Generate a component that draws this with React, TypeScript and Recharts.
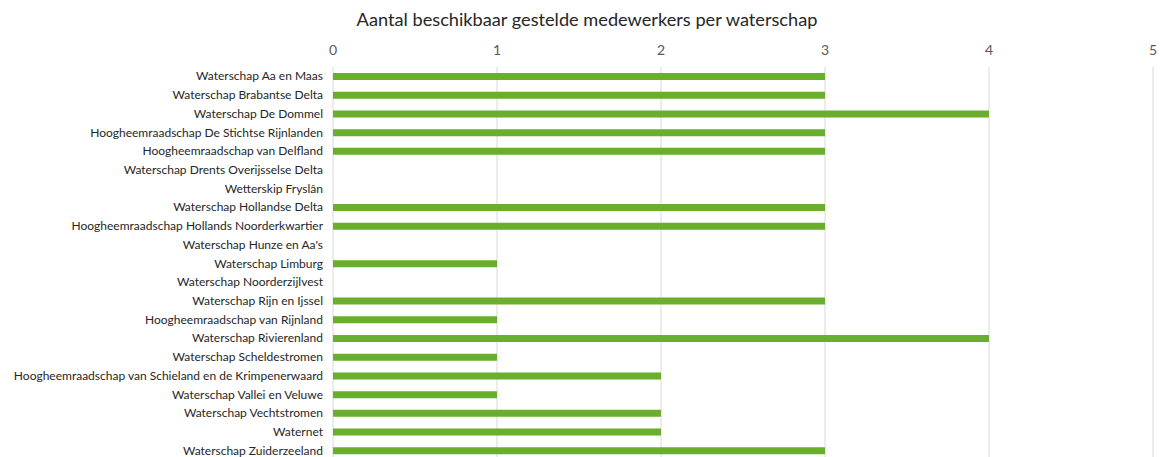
import { Bar, BarChart, CartesianGrid, XAxis, YAxis } from "recharts";

const waterschappen = [
  "Waterschap Aa en Maas",
  "Waterschap Brabantse Delta",
  "Waterschap De Dommel",
  "Hoogheemraadschap De Stichtse Rijnlanden",
  "Hoogheemraadschap van Delfland",
  "Waterschap Drents Overijsselse Delta",
  "Wetterskip Fryslân",
  "Waterschap Hollandse Delta",
  "Hoogheemraadschap Hollands Noorderkwartier",
  "Waterschap Hunze en Aa's",
  "Waterschap Limburg",
  "Waterschap Noorderzijlvest",
  "Waterschap Rijn en Ijssel",
  "Hoogheemraadschap van Rijnland",
  "Waterschap Rivierenland",
  "Waterschap Scheldestromen",
  "Hoogheemraadschap van Schieland en de Krimpenerwaard",
  "Waterschap Vallei en Veluwe",
  "Waterschap Vechtstromen",
  "Waternet",
  "Waterschap Zuiderzeeland",
];

const medewerkers = [3, 3, 4, 3, 3, 0, 0, 3, 3, 0, 1, 0, 3, 1, 4, 1, 2, 1, 2, 2, 3];

const xTicks = [0, 1, 2, 3, 4, 5];

const data = waterschappen.map((name, i) => ({ name, aantal: medewerkers[i] }));

const font = "Lato, 'Open Sans', sans-serif";

// plain text tick so long names don't wrap
const NameTick = (props: any) => {
  const { x, y, payload } = props;
  return (
    <text x={x} y={y} dy={4} textAnchor="end" fill="#262626" fontSize={12} fontFamily={font}>
      {payload.value}
    </text>
  );
};

const ValueTick = (props: any) => {
  const { x, y, payload } = props;
  return (
    <text x={x} y={y} dy={-6} textAnchor="middle" fill="#595959" fontSize={14} fontFamily={font}>
      {payload.value}
    </text>
  );
};

export default function App() {
  return (
    <div
      style={{
        position: "absolute",
        top: 8,
        left: 8,
        width: 1152,
        height: 449,
        overflow: "hidden",
        fontFamily: font,
      }}
    >
      <div
        style={{
          position: "absolute",
          top: 0,
          left: 6,
          width: 1146,
          textAlign: "center",
          fontSize: 18.2,
          color: "#262626",
        }}
      >
        Aantal beschikbaar gestelde medewerkers per waterschap
      </div>
      <BarChart
        width={1152}
        height={456}
        data={data}
        layout="vertical"
        margin={{ top: 29, right: 7, bottom: 4, left: 0 }}
        barCategoryGap={0}
      >
        <CartesianGrid horizontal={false} stroke="#d9d9d9" strokeWidth={1} />
        <XAxis
          type="number"
          orientation="top"
          domain={[0, 5]}
          ticks={xTicks}
          height={30}
          axisLine={false}
          tickLine={false}
          tickMargin={0}
          tick={<ValueTick />}
        />
        <YAxis
          type="category"
          dataKey="name"
          width={325}
          interval={0}
          axisLine={false}
          tickLine={false}
          tickMargin={4}
          tick={<NameTick />}
        />
        <Bar dataKey="aantal" fill="#6aae2e" barSize={7} isAnimationActive={false} />
      </BarChart>
    </div>
  );
}
